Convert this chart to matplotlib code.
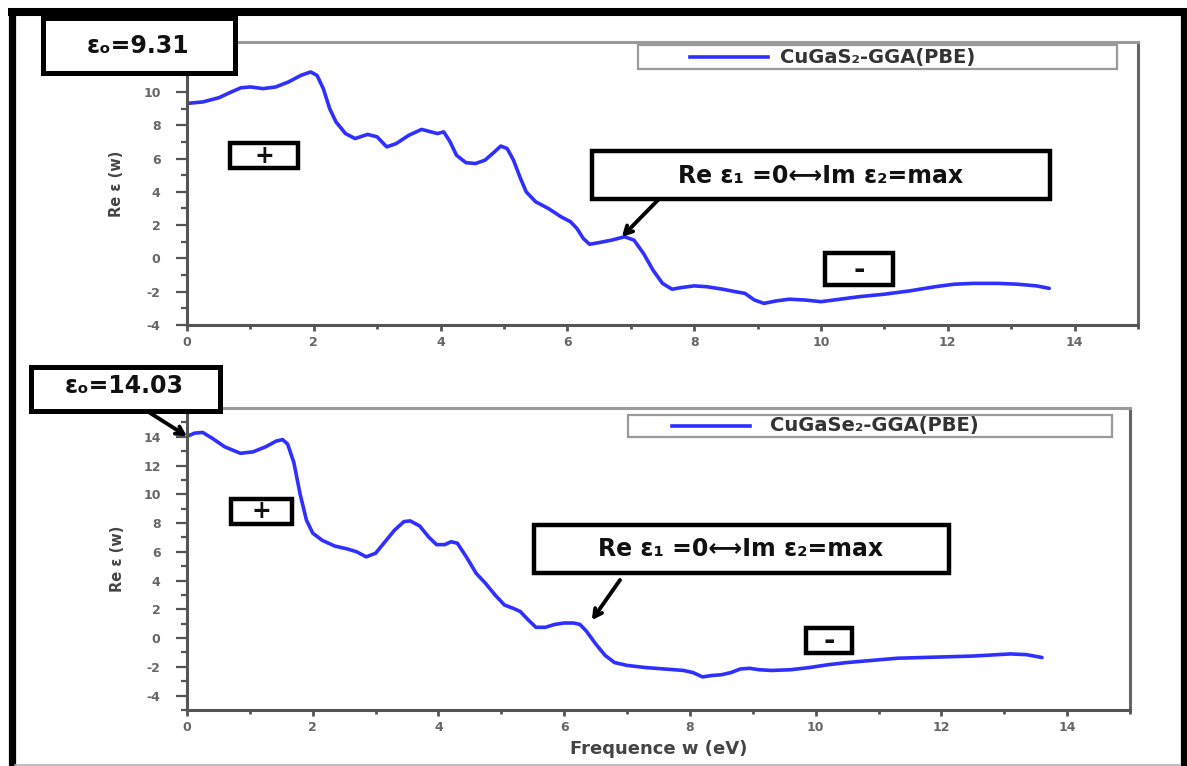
import matplotlib
matplotlib.use("Agg")
import matplotlib.pyplot as plt
from matplotlib.patches import Rectangle
from matplotlib.lines import Line2D
from matplotlib.ticker import MultipleLocator

plt.rcParams["axes.unicode_minus"] = False

# ---------------- data ----------------
freq_s = [0, 0.25, 0.5, 0.7, 0.85, 1.0, 1.2, 1.4, 1.6, 1.8, 1.95, 2.05, 2.15, 2.25,
          2.35, 2.5, 2.65, 2.85, 3.0, 3.15, 3.3, 3.5, 3.7, 3.85, 3.95, 4.05, 4.15,
          4.25, 4.4, 4.55, 4.7, 4.85, 4.95, 5.05, 5.15, 5.25, 5.35, 5.5, 5.7, 5.9,
          6.05, 6.15, 6.25, 6.35, 6.5, 6.7, 6.9, 7.05, 7.2, 7.35, 7.5, 7.65, 7.8,
          8.0, 8.2, 8.45, 8.65, 8.8, 8.95, 9.1, 9.3, 9.5, 9.75, 10.0, 10.3, 10.6,
          11.0, 11.4, 11.8, 12.1, 12.4, 12.8, 13.1, 13.4, 13.6]
eps_s = [9.31, 9.4, 9.65, 10.0, 10.25, 10.3, 10.2, 10.3, 10.6, 11.0, 11.2, 11.0,
         10.2, 9.0, 8.2, 7.5, 7.2, 7.45, 7.3, 6.7, 6.9, 7.4, 7.75, 7.6, 7.5, 7.6,
         7.0, 6.2, 5.75, 5.7, 5.9, 6.4, 6.75, 6.6, 5.9, 4.9, 4.0, 3.4, 3.0, 2.5,
         2.2, 1.8, 1.2, 0.85, 0.95, 1.1, 1.3, 1.1, 0.3, -0.7, -1.5, -1.85, -1.75,
         -1.65, -1.7, -1.85, -2.0, -2.1, -2.5, -2.7, -2.55, -2.45, -2.5, -2.6,
         -2.45, -2.3, -2.15, -1.95, -1.7, -1.55, -1.5, -1.5, -1.55, -1.65, -1.8]

freq_se = [0, 0.12, 0.25, 0.4, 0.6, 0.85, 1.05, 1.25, 1.42, 1.52, 1.6, 1.7, 1.8,
           1.9, 2.0, 2.15, 2.35, 2.55, 2.7, 2.85, 3.0, 3.15, 3.3, 3.45, 3.55, 3.7,
           3.85, 3.97, 4.1, 4.2, 4.3, 4.45, 4.6, 4.75, 4.9, 5.05, 5.2, 5.3, 5.42,
           5.55, 5.7, 5.85, 6.0, 6.15, 6.25, 6.35, 6.5, 6.65, 6.8, 7.0, 7.3, 7.6,
           7.9, 8.05, 8.2, 8.35, 8.5, 8.65, 8.8, 8.95, 9.1, 9.3, 9.6, 9.9, 10.2,
           10.5, 10.9, 11.3, 11.7, 12.1, 12.5, 12.9, 13.1, 13.35, 13.6]
eps_se = [14.03, 14.25, 14.3, 13.9, 13.3, 12.85, 12.95, 13.3, 13.7, 13.8, 13.5,
          12.2, 10.0, 8.2, 7.3, 6.8, 6.4, 6.2, 6.0, 5.65, 5.9, 6.7, 7.5, 8.1, 8.15,
          7.8, 7.0, 6.5, 6.5, 6.7, 6.6, 5.6, 4.5, 3.8, 3.0, 2.3, 2.05, 1.85, 1.3,
          0.75, 0.75, 0.95, 1.05, 1.05, 0.95, 0.5, -0.4, -1.2, -1.7, -1.9, -2.05,
          -2.15, -2.25, -2.4, -2.7, -2.6, -2.55, -2.4, -2.15, -2.1, -2.2, -2.25,
          -2.2, -2.05, -1.85, -1.7, -1.55, -1.4, -1.35, -1.3, -1.25, -1.15, -1.1,
          -1.15, -1.35]

x_ticks = [0, 2, 4, 6, 8, 10, 12, 14]
y_ticks_s = [-4, -2, 0, 2, 4, 6, 8, 10]
y_ticks_se = [-4, -2, 0, 2, 4, 6, 8, 10, 12, 14]
eps0_s = 9.31
eps0_se = 14.03
label_s = "CuGaS₂-GGA(PBE)"
label_se = "CuGaSe₂-GGA(PBE)"
ylabel = "Re ε (w)"
xlabel = "Frequence w (eV)"
note_text = "Re ε₁ =0⟷Im ε₂=max"

# ---------------- figure ----------------
W, H = 1187, 766
fig = plt.figure(figsize=(W / 100, H / 100), dpi=100)
fig.patch.set_facecolor("white")


def fx(x):
    return x / W


def fy(y):
    return 1 - y / H


LINE_COLOR = "#2f2fff"
AXIS_COLOR = "#555555"
TICK_TEXT = "#666666"

ax1 = fig.add_axes([fx(187), fy(325), (1138 - 187) / W, (325 - 42) / H])
ax2 = fig.add_axes([fx(187), fy(710), (1130 - 187) / W, (710 - 408) / H])


def style_axes(ax, ylim, yticks):
    ax.set_xlim(0, 15)
    ax.set_ylim(*ylim)
    ax.set_xticks(x_ticks)
    ax.set_yticks(yticks)
    ax.xaxis.set_minor_locator(MultipleLocator(1))
    ax.yaxis.set_minor_locator(MultipleLocator(1))
    ax.tick_params(axis="y", which="major", direction="out", length=8, width=1.6,
                   color=AXIS_COLOR, pad=11, labelsize=9, labelcolor=TICK_TEXT)
    ax.tick_params(axis="y", which="minor", direction="out", length=4, width=1.6,
                   color=AXIS_COLOR)
    ax.tick_params(axis="x", which="major", direction="out", length=4, width=2,
                   color=AXIS_COLOR, pad=4, labelsize=9, labelcolor=TICK_TEXT)
    ax.tick_params(axis="x", which="minor", direction="out", length=3, width=2,
                   color=AXIS_COLOR)
    for lab in ax.get_xticklabels() + ax.get_yticklabels():
        lab.set_fontweight("bold")
    ax.spines["left"].set_color(AXIS_COLOR)
    ax.spines["bottom"].set_color(AXIS_COLOR)
    ax.spines["right"].set_color("#666666")
    ax.spines["top"].set_color("#9a9a9a")
    for s in ax.spines.values():
        s.set_linewidth(2.2)
    ax.set_ylabel(ylabel, fontsize=10.5, fontweight="bold", color="#444444",
                  family=["Liberation Sans Narrow", "DejaVu Sans"])
    ax.yaxis.set_label_coords(-0.066, 0.5)


style_axes(ax1, (-4, 13), y_ticks_s)
style_axes(ax2, (-5, 16), y_ticks_se)

ax1.plot(freq_s, eps_s, color=LINE_COLOR, lw=2.6, solid_joinstyle="round",
         solid_capstyle="round")
ax2.plot(freq_se, eps_se, color=LINE_COLOR, lw=2.6, solid_joinstyle="round",
         solid_capstyle="round")

ax2.set_xlabel(xlabel, fontsize=13, fontweight="bold", color="#444444")
ax2.xaxis.set_label_coords(0.5, -0.10)


# ---------------- legends (drawn by hand for the wide frames) ----------------
def legend_box(x0, y0, x1, y1, lx0, lx1, tx, label):
    yc = (y0 + y1) / 2
    fig.add_artist(Rectangle((fx(x0), fy(y1)), (x1 - x0) / W, (y1 - y0) / H,
                             transform=fig.transFigure, fc="white", ec="#9a9a9a",
                             lw=1.6, zorder=3))
    fig.add_artist(Line2D([fx(lx0), fx(lx1)], [fy(yc), fy(yc)], color=LINE_COLOR,
                          lw=2.6, zorder=4))
    fig.text(fx(tx), fy(yc), label, ha="left", va="center", fontsize=14,
             fontweight="bold", color="#333333", zorder=4)


legend_box(638, 45, 1117, 69, 690, 768, 780, label_s)
legend_box(628, 415, 1112, 437, 672, 750, 770, label_se)


# ---------------- annotation boxes ----------------
def text_box(x0, y0, x1, y1, text, cx, cy, size, lw=3.2):
    fig.add_artist(Rectangle((fx(x0), fy(y1)), (x1 - x0) / W, (y1 - y0) / H,
                             transform=fig.transFigure, fc="white", ec="black",
                             lw=lw, zorder=5))
    fig.text(fx(cx), fy(cy), text, ha="center", va="center", fontsize=size,
             fontweight="bold", color="#111111", zorder=6)


text_box(43, 18, 235, 73, f"εₒ={eps0_s:.2f}", 138, 46, 17, lw=3.6)
text_box(31, 367, 220, 411, f"εₒ={eps0_se:.2f}", 124, 386, 17, lw=3.6)

text_box(230, 143, 298, 168, "+", 264, 156, 17)
text_box(231, 499, 292, 524, "+", 261, 511, 17)
text_box(825, 253, 893, 285, "-", 859, 270, 20)
text_box(806, 628, 852, 653, "-", 829, 641, 20)

text_box(592, 151, 1050, 199, note_text, 821, 176, 17)
text_box(534, 525, 949, 573, note_text, 741, 549, 17)

arrow = dict(arrowstyle="->,head_length=0.55,head_width=0.3", lw=2.8,
             color="black", shrinkA=0, shrinkB=0)
ax1.annotate("", xy=(6.86, 1.3), xycoords="data",
             xytext=(fx(658), fy(200)), textcoords="figure fraction",
             arrowprops=arrow, annotation_clip=False)
ax2.annotate("", xy=(6.44, 1.25), xycoords="data",
             xytext=(fx(620), fy(580)), textcoords="figure fraction",
             arrowprops=arrow, annotation_clip=False)
ax2.annotate("", xy=(0, eps0_se), xycoords="data",
             xytext=(fx(147), fy(411)), textcoords="figure fraction",
             arrowprops=arrow, annotation_clip=False)

# ---------------- outer frame ----------------
fig.add_artist(Line2D([fx(11.5), fx(11.5)], [fy(8), 0], color="black", lw=5.2,
                      solid_capstyle="butt", zorder=7))
fig.add_artist(Line2D([fx(8), 1], [fy(12), fy(12)], color="black", lw=5.8,
                      solid_capstyle="butt", zorder=7))
fig.add_artist(Line2D([fx(1183.5), fx(1183.5)], [fy(8), 0], color="black", lw=5.2,
                      solid_capstyle="butt", zorder=7))
fig.add_artist(Line2D([fx(15), fx(1180)], [fy(765), fy(765)], color="#b0b0b0",
                      lw=1.2, zorder=7))

fig.savefig("out.png", dpi=100)
